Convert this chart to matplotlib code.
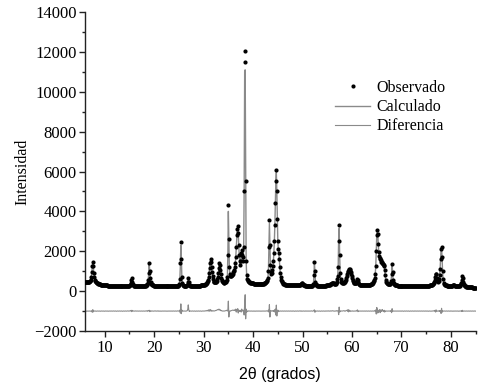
import numpy as np
import matplotlib
matplotlib.use("Agg")
import matplotlib.pyplot as plt
from matplotlib.ticker import MultipleLocator

# 2-theta measurement grid (instrument step 0.1 deg), 6.0 .. 85.0
two_theta = np.round(np.arange(60, 851) / 10.0, 1)

observed = [
    470, 462, 455, 450, 446, 448, 450, 455, 462, 470,
    484, 515, 578, 704, 935, 1250, 1460, 1240, 925, 700,
    570, 500, 465, 440, 420, 400, 385, 372, 360, 350,
    342, 335, 328, 322, 318, 312, 308, 305, 300, 298,
    295, 292, 290, 288, 286, 284, 282, 280, 278, 276,
    275, 273, 272, 270, 270, 268, 266, 265, 265, 263,
    262, 260, 260, 258, 257, 256, 255, 255, 254, 253,
    252, 252, 250, 250, 249, 248, 248, 247, 246, 246,
    245, 245, 244, 244, 245, 246, 248, 250, 255, 262,
    272, 290, 330, 410, 560, 640, 470, 340, 290, 268,
    258, 252, 250, 248, 246, 245, 245, 244, 244, 243,
    243, 243, 242, 243, 244, 245, 246, 248, 250, 253,
    257, 262, 268, 278, 292, 315, 350, 420, 560, 900,
    1420, 1000, 650, 470, 380, 335, 310, 295, 285, 278,
    272, 266, 262, 258, 255, 253, 251, 250, 248, 247,
    246, 245, 245, 244, 244, 243, 243, 242, 242, 242,
    241, 241, 241, 240, 240, 240, 240, 239, 239, 239,
    239, 239, 240, 240, 240, 241, 241, 242, 242, 243,
    244, 245, 246, 248, 250, 252, 255, 260, 268, 280,
    310, 380, 620, 1400, 2450, 1600, 700, 400, 320, 290,
    275, 268, 265, 265, 268, 275, 290, 330, 470, 650,
    460, 330, 285, 270, 262, 258, 255, 253, 252, 252,
    252, 252, 253, 254, 255, 257, 259, 262, 265, 268,
    271, 274, 278, 282, 286, 290, 295, 300, 305, 310,
    315, 320, 326, 335, 350, 370, 400, 440, 500, 580,
    700, 900, 1150, 1420, 1600, 1480, 1220, 960, 760, 620,
    530, 475, 445, 435, 440, 455, 480, 520, 600, 720,
    900, 1150, 1400, 1300, 1080, 850, 680, 570, 500, 460,
    440, 430, 430, 435, 445, 460, 490, 540, 700, 1800,
    4300, 2600, 1200, 850, 780, 760, 770, 790, 820, 880,
    950, 1000, 1080, 1200, 1400, 1700, 2200, 2800, 3100, 3250,
    2900, 2300, 1800, 1500, 1300, 1500, 1900, 2050, 1800, 1500,
    1700, 2200, 5000, 11500, 12050, 5500, 1500, 800, 620, 550,
    510, 480, 460, 445, 430, 420, 410, 400, 395, 390,
    385, 380, 375, 372, 370, 368, 366, 364, 362, 360,
    358, 357, 356, 356, 356, 357, 358, 360, 362, 365,
    370, 375, 382, 390, 400, 415, 435, 460, 500, 560,
    680, 1000, 2200, 3550, 2300, 1300, 950, 850, 900, 1050,
    1250, 1500, 1900, 2500, 3300, 4400, 5500, 6100, 5000, 3600,
    2500, 2100, 1900, 1600, 1200, 900, 700, 580, 500, 450,
    410, 380, 360, 345, 335, 325, 318, 312, 308, 305,
    302, 300, 298, 296, 295, 294, 293, 292, 291, 290,
    290, 289, 288, 288, 287, 287, 286, 286, 286, 286,
    287, 288, 290, 295, 302, 315, 335, 370, 400, 390,
    350, 320, 300, 290, 284, 280, 277, 275, 274, 273,
    272, 271, 270, 270, 270, 270, 271, 272, 273, 275,
    280, 295, 350, 800, 1480, 1000, 480, 340, 300, 285,
    278, 273, 270, 268, 267, 266, 266, 266, 266, 267,
    268, 269, 270, 272, 274, 276, 278, 280, 283, 286,
    290, 295, 300, 307, 315, 325, 338, 355, 375, 395,
    410, 420, 410, 390, 370, 360, 360, 370, 400, 470,
    600, 780, 1200, 2500, 3300, 1800, 900, 600, 480, 440,
    420, 410, 410, 420, 440, 470, 510, 570, 650, 740,
    840, 940, 1020, 1080, 1120, 1110, 1060, 980, 880, 770,
    670, 580, 510, 460, 425, 400, 390, 390, 400, 430,
    500, 600, 560, 450, 380, 345, 325, 312, 305, 300,
    296, 293, 291, 290, 290, 290, 291, 292, 294, 296,
    298, 300, 303, 306, 310, 315, 320, 327, 335, 345,
    360, 380, 405, 440, 490, 560, 680, 880, 1250, 2000,
    2800, 3050, 2850, 2350, 1950, 1750, 1650, 1600, 1550, 1480,
    1450, 1420, 1380, 1350, 1320, 1250, 1050, 800, 580, 470,
    420, 390, 370, 360, 355, 355, 360, 375, 420, 520,
    850, 1380, 950, 560, 400, 345, 320, 305, 295, 290,
    286, 283, 280, 278, 276, 274, 272, 271, 270, 269,
    268, 267, 266, 265, 264, 264, 263, 263, 262, 262,
    262, 262, 262, 263, 264, 265, 266, 266, 265, 264,
    263, 262, 261, 260, 259, 258, 257, 257, 256, 256,
    255, 255, 255, 254, 254, 254, 253, 253, 253, 253,
    253, 253, 254, 254, 255, 256, 257, 258, 260, 262,
    264, 266, 268, 270, 273, 276, 280, 285, 290, 297,
    305, 315, 328, 345, 370, 400, 450, 540, 700, 880,
    850, 650, 520, 480, 490, 530, 620, 800, 1100, 1600,
    2100, 2200, 1700, 1000, 600, 420, 350, 320, 305, 295,
    288, 283, 280, 277, 275, 274, 273, 272, 272, 272,
    272, 273, 275, 280, 290, 300, 295, 285, 278, 272,
    268, 265, 262, 260, 260, 262, 265, 270, 280, 300,
    340, 420, 580, 780, 650, 450, 340, 290, 265, 250,
    240, 232, 226, 221, 217, 214, 211, 208, 205, 202,
    198, 194, 190, 186, 182, 178, 174, 170, 166, 162,
    158,
]

calculated = [
    470, 462, 455, 450, 446, 448, 450, 455, 462, 470,
    484, 515, 578, 704, 935, 1250, 1420, 1240, 925, 700,
    570, 500, 465, 440, 420, 400, 385, 372, 360, 350,
    342, 335, 328, 322, 318, 312, 308, 305, 300, 298,
    295, 292, 290, 288, 286, 284, 282, 280, 278, 276,
    275, 273, 272, 270, 270, 268, 266, 265, 265, 263,
    262, 260, 260, 258, 257, 256, 255, 255, 254, 253,
    252, 252, 250, 250, 249, 248, 248, 247, 246, 246,
    245, 245, 244, 244, 245, 246, 248, 250, 255, 262,
    272, 290, 330, 410, 560, 620, 470, 340, 290, 268,
    258, 252, 250, 248, 246, 245, 245, 244, 244, 243,
    243, 243, 242, 243, 244, 245, 246, 248, 250, 253,
    257, 262, 268, 278, 292, 315, 350, 420, 560, 900,
    1400, 1000, 650, 470, 380, 335, 310, 295, 285, 278,
    272, 266, 262, 258, 255, 253, 251, 250, 248, 247,
    246, 245, 245, 244, 244, 243, 243, 242, 242, 242,
    241, 241, 241, 240, 240, 240, 240, 239, 239, 239,
    239, 239, 240, 240, 240, 241, 241, 242, 242, 243,
    244, 245, 246, 248, 250, 252, 255, 260, 268, 280,
    310, 380, 620, 1300, 2300, 1700, 700, 400, 320, 290,
    275, 268, 265, 265, 268, 275, 290, 330, 470, 600,
    460, 330, 285, 270, 262, 258, 255, 253, 252, 252,
    252, 252, 253, 254, 255, 257, 259, 262, 265, 268,
    271, 274, 278, 282, 286, 290, 295, 300, 305, 310,
    315, 320, 326, 335, 350, 370, 400, 440, 500, 580,
    700, 900, 1150, 1420, 1580, 1480, 1220, 960, 760, 620,
    530, 475, 445, 435, 440, 455, 480, 520, 600, 720,
    900, 1150, 1380, 1300, 1080, 850, 680, 570, 500, 460,
    440, 430, 430, 435, 445, 460, 490, 540, 700, 1800,
    4000, 2700, 1200, 850, 780, 760, 770, 790, 820, 880,
    950, 1000, 1080, 1200, 1400, 1700, 2200, 2800, 3100, 3150,
    2950, 2300, 1800, 1500, 1300, 1500, 1900, 1950, 1800, 1500,
    1700, 2200, 5200, 11000, 11100, 5800, 1500, 800, 620, 550,
    510, 480, 460, 445, 430, 420, 410, 400, 395, 390,
    385, 380, 375, 372, 370, 368, 366, 364, 362, 360,
    358, 357, 356, 356, 356, 357, 358, 360, 362, 365,
    370, 375, 382, 390, 400, 415, 435, 460, 500, 560,
    680, 1000, 2200, 3400, 2400, 1300, 950, 850, 900, 1050,
    1250, 1500, 1900, 2500, 3300, 4400, 5500, 5950, 5000, 3600,
    2500, 2100, 1900, 1600, 1200, 900, 700, 580, 500, 450,
    410, 380, 360, 345, 335, 325, 318, 312, 308, 305,
    302, 300, 298, 296, 295, 294, 293, 292, 291, 290,
    290, 289, 288, 288, 287, 287, 286, 286, 286, 286,
    287, 288, 290, 295, 302, 315, 335, 370, 400, 390,
    350, 320, 300, 290, 284, 280, 277, 275, 274, 273,
    272, 271, 270, 270, 270, 270, 271, 272, 273, 275,
    280, 295, 350, 800, 1440, 1000, 480, 340, 300, 285,
    278, 273, 270, 268, 267, 266, 266, 266, 266, 267,
    268, 269, 270, 272, 274, 276, 278, 280, 283, 286,
    290, 295, 300, 307, 315, 325, 338, 355, 375, 395,
    410, 420, 410, 390, 370, 360, 360, 370, 400, 470,
    600, 780, 1200, 2650, 3150, 1800, 900, 600, 480, 440,
    420, 410, 410, 420, 440, 470, 510, 570, 650, 740,
    840, 940, 1020, 1080, 1120, 1110, 1060, 980, 880, 770,
    670, 580, 510, 460, 425, 400, 390, 390, 400, 430,
    500, 600, 560, 450, 380, 345, 325, 312, 305, 300,
    296, 293, 291, 290, 290, 290, 291, 292, 294, 296,
    298, 300, 303, 306, 310, 315, 320, 327, 335, 345,
    360, 380, 405, 440, 490, 560, 680, 880, 1250, 2000,
    2800, 2950, 2850, 2350, 1950, 1750, 1650, 1600, 1550, 1480,
    1450, 1420, 1380, 1350, 1320, 1250, 1050, 800, 580, 470,
    420, 390, 370, 360, 355, 355, 360, 375, 420, 520,
    850, 1360, 950, 560, 400, 345, 320, 305, 295, 290,
    286, 283, 280, 278, 276, 274, 272, 271, 270, 269,
    268, 267, 266, 265, 264, 264, 263, 263, 262, 262,
    262, 262, 262, 263, 264, 265, 266, 266, 265, 264,
    263, 262, 261, 260, 259, 258, 257, 257, 256, 256,
    255, 255, 255, 254, 254, 254, 253, 253, 253, 253,
    253, 253, 254, 254, 255, 256, 257, 258, 260, 262,
    264, 266, 268, 270, 273, 276, 280, 285, 290, 297,
    305, 315, 328, 345, 370, 400, 450, 540, 700, 880,
    850, 650, 520, 480, 490, 530, 620, 800, 1100, 1600,
    2100, 2150, 1700, 1000, 600, 420, 350, 320, 305, 295,
    288, 283, 280, 277, 275, 274, 273, 272, 272, 272,
    272, 273, 275, 280, 290, 300, 295, 285, 278, 272,
    268, 265, 262, 260, 260, 262, 265, 270, 280, 300,
    340, 420, 580, 780, 650, 450, 340, 290, 265, 250,
    240, 232, 226, 221, 217, 214, 211, 208, 205, 202,
    198, 194, 190, 186, 182, 178, 174, 170, 166, 162,
    158,
]

difference = [
    -1000, -1005, -995, -1000, -1010, -1000, -995, -1000, -1005, -1000,
    -995, -1000, -1010, -990, -980, -1060, -930, -1040, -990, -1000,
    -1005, -995, -1000, -1010, -1000, -995, -1000, -1005, -1000, -995,
    -1000, -1010, -1000, -995, -1000, -1005, -1000, -995, -1000, -1010,
    -1000, -995, -1000, -1005, -1000, -995, -1000, -1010, -1000, -995,
    -1000, -1005, -1000, -995, -1000, -1005, -1000, -1000, -995, -1000,
    -1005, -1000, -995, -1000, -1010, -1000, -995, -1000, -1005, -1000,
    -995, -1000, -1005, -1000, -995, -1000, -1010, -1000, -995, -1000,
    -1005, -1000, -995, -1000, -1005, -1000, -995, -990, -1000, -1005,
    -1000, -990, -980, -970, -1030, -960, -1010, -990, -1000, -995,
    -1000, -1005, -1000, -990, -1000, -1005, -1000, -995, -1000, -1005,
    -1000, -995, -1000, -1005, -1000, -995, -1000, -1005, -1000, -995,
    -1000, -1005, -1000, -995, -990, -1000, -985, -1010, -990, -980,
    -960, -1030, -985, -1000, -990, -1005, -1000, -995, -1000, -1005,
    -1000, -995, -990, -1000, -1005, -1000, -995, -1000, -990, -1005,
    -1000, -1005, -995, -1000, -1010, -1000, -995, -1000, -1005, -1000,
    -995, -1000, -1005, -1000, -995, -1000, -1010, -1000, -995, -1000,
    -1005, -1000, -995, -1000, -1005, -1000, -995, -1005, -1000, -995,
    -1000, -1005, -1000, -995, -1000, -1005, -1000, -995, -990, -1000,
    -1000, -990, -950, -1100, -640, -1130, -950, -1000, -990, -1000,
    -1005, -1000, -995, -1000, -1005, -1000, -990, -980, -900, -690,
    -950, -1020, -1000, -995, -1000, -1005, -1000, -995, -1000, -1000,
    -1005, -1000, -995, -1000, -1010, -1000, -995, -1000, -1005, -1000,
    -995, -1000, -1005, -1000, -995, -1000, -1010, -1000, -995, -1000,
    -1000, -995, -1000, -990, -985, -995, -980, -970, -990, -960,
    -940, -1020, -970, -920, -950, -1010, -960, -990, -1000, -980,
    -990, -1000, -995, -985, -970, -975, -960, -950, -930, -920,
    -940, -900, -930, -960, -940, -980, -970, -990, -1000, -995,
    -1000, -995, -1000, -990, -985, -980, -970, -960, -1000, -950,
    -500, -1300, -1050, -990, -1000, -985, -980, -970, -960, -950,
    -960, -970, -950, -940, -980, -900, -1050, -920, -990, -880,
    -1100, -950, -1020, -970, -1000, -960, -1050, -900, -1000, -980,
    -950, -1050, -1200, -600, -180, -1390, -900, -1050, -1000, -1010,
    -990, -1000, -995, -1000, -1005, -1000, -995, -1000, -1005, -1000,
    -1000, -1005, -995, -1000, -1010, -1000, -995, -1000, -1005, -1000,
    -995, -1000, -1005, -1000, -995, -1000, -1010, -1000, -995, -1000,
    -1005, -1000, -995, -1000, -1005, -1000, -995, -990, -1000, -1005,
    -1000, -950, -1050, -680, -1300, -980, -1010, -990, -1000, -980,
    -1000, -990, -1020, -950, -1050, -900, -1200, -700, -1250, -1000,
    -950, -1030, -990, -1010, -1000, -995, -1000, -1005, -1000, -995,
    -1000, -1005, -1000, -995, -1000, -1005, -1000, -995, -1000, -1005,
    -1000, -995, -1000, -1005, -1000, -995, -1000, -1005, -1000, -995,
    -1005, -1000, -995, -1000, -1010, -1000, -995, -1000, -1005, -1000,
    -995, -1000, -1005, -1000, -995, -990, -1000, -1010, -995, -1000,
    -1005, -1000, -995, -1000, -1005, -1000, -995, -1005, -1000, -995,
    -1000, -1005, -1000, -995, -1000, -1005, -1000, -995, -990, -1000,
    -1000, -1005, -990, -960, -940, -1060, -990, -1000, -1005, -1000,
    -995, -1000, -1005, -1000, -995, -1000, -1010, -1000, -995, -1000,
    -1005, -1000, -995, -1000, -1005, -1000, -995, -1005, -1000, -995,
    -1000, -995, -1000, -990, -1000, -1005, -995, -990, -1000, -995,
    -990, -985, -995, -1000, -1005, -1000, -995, -1000, -990, -980,
    -1000, -990, -980, -1180, -800, -1050, -990, -1000, -995, -1000,
    -1000, -995, -990, -985, -980, -1000, -1010, -990, -980, -970,
    -960, -1010, -930, -1040, -950, -980, -1020, -990, -1000, -1005,
    -1000, -990, -1010, -1000, -995, -1000, -1005, -1000, -990, -1000,
    -970, -940, -1030, -1000, -995, -1000, -1005, -1000, -995, -1000,
    -1005, -1000, -995, -1000, -1005, -1000, -995, -1005, -1000, -995,
    -1000, -1005, -1000, -995, -1000, -1005, -1000, -995, -1000, -1005,
    -1000, -995, -1000, -1005, -1000, -990, -980, -1010, -940, -1150,
    -820, -900, -1100, -960, -1050, -990, -920, -1080, -950, -1020,
    -980, -920, -1000, -970, -1030, -960, -1050, -990, -1000, -995,
    -1000, -1005, -1000, -995, -1000, -1005, -1000, -990, -1010, -980,
    -1080, -880, -1020, -990, -1000, -1005, -1000, -995, -1000, -1005,
    -1000, -995, -1000, -1005, -1000, -995, -1000, -1005, -1000, -995,
    -1005, -1000, -995, -1000, -1010, -1000, -995, -1000, -1005, -1000,
    -995, -1000, -1005, -1000, -995, -1000, -1010, -1000, -995, -1000,
    -1005, -1000, -995, -1000, -1005, -1000, -995, -1005, -1000, -995,
    -1000, -1005, -1000, -995, -1000, -1005, -1000, -995, -1000, -1005,
    -1000, -995, -1000, -1005, -1000, -995, -1000, -1005, -1000, -995,
    -1005, -1000, -995, -1000, -1010, -1000, -995, -1000, -1005, -1000,
    -1000, -1005, -1000, -995, -1000, -990, -980, -1010, -960, -1050,
    -940, -1000, -1010, -995, -1000, -990, -1010, -980, -1020, -970,
    -1120, -860, -1060, -980, -1000, -1005, -1000, -995, -1000, -1005,
    -1000, -995, -1000, -1005, -1000, -995, -1000, -1005, -1000, -995,
    -1005, -1000, -995, -1000, -1010, -1000, -995, -1000, -1005, -1000,
    -995, -1000, -1005, -1000, -995, -1000, -1010, -1000, -995, -1000,
    -1000, -990, -1020, -960, -1010, -1000, -1005, -1000, -995, -1000,
    -1005, -1000, -995, -1000, -1005, -1000, -995, -1005, -1000, -995,
    -1000, -1005, -1000, -995, -1000, -1005, -1000, -995, -1000, -1005,
    -1000,
]

legend_labels = ["Observado", "Calculado", "Diferencia"]
x_label = "2θ (grados)"
y_label = "Intensidad"

serif = ["Liberation Serif", "DejaVu Serif"]
plt.rcParams["font.family"] = serif

fig = plt.figure(figsize=(4.87, 3.88), dpi=100)
ax = fig.add_axes([0.1743, 0.1469, 0.8025, 0.8221])

calc_line, = ax.plot(two_theta, calculated, color="#8a8a8a", lw=1.0, zorder=2,
                     label=legend_labels[1])
obs_pts, = ax.plot(two_theta, observed, ls="none", marker="o", ms=3.0,
                   mfc="black", mec="black", mew=0, zorder=3,
                   label=legend_labels[0])
diff_line, = ax.plot(two_theta, difference, color="#8a8a8a", lw=0.8, zorder=2,
                     label=legend_labels[2])

ax.set_xlim(6, 85)
ax.set_ylim(-2000, 14000)
ax.xaxis.set_major_locator(MultipleLocator(10))
ax.xaxis.set_minor_locator(MultipleLocator(5))
ax.yaxis.set_major_locator(MultipleLocator(2000))
ax.yaxis.set_minor_locator(MultipleLocator(1000))

for s in ("top", "right"):
    ax.spines[s].set_visible(False)
for s in ("left", "bottom"):
    ax.spines[s].set_linewidth(1.0)
    ax.spines[s].set_color("#222222")

ax.tick_params(which="major", direction="out", length=4.5, width=1.0,
               color="#222222", labelsize=12, pad=2)
ax.tick_params(which="minor", direction="out", length=2.5, width=1.0,
               color="#222222")
ax.tick_params(axis="y", which="major", labelsize=12, pad=1.5)

ax.set_xlabel(x_label, family=["Liberation Sans", "DejaVu Sans"], fontsize=11.5,
              labelpad=8)
ax.set_ylabel(y_label, fontsize=11.5, labelpad=3)

ax.legend(handles=[obs_pts, calc_line, diff_line], labels=legend_labels,
          loc="upper left", bbox_to_anchor=(335 / 487, 1 - 80 / 388),
          bbox_transform=fig.transFigure, frameon=False, fontsize=11.5,
          borderpad=0, borderaxespad=0, handlelength=2.2, handletextpad=0.4,
          labelspacing=0.2, numpoints=1, markerscale=1.0)

fig.savefig("out.png", dpi=100)
